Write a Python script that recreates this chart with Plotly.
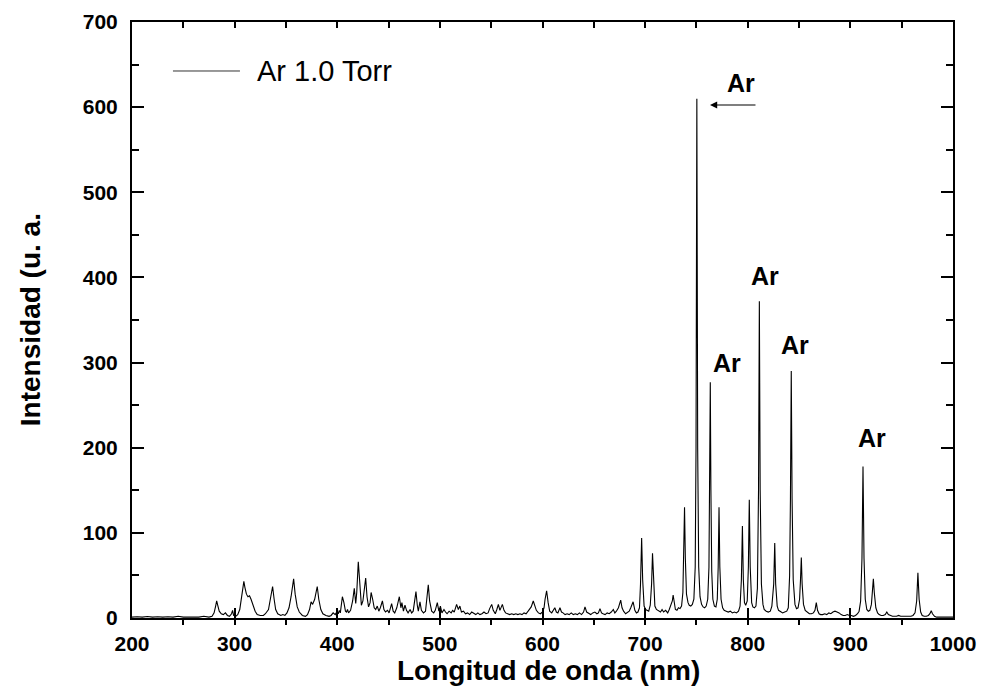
import plotly.graph_objects as go

# (wavelength nm, intensity a.u.)
uv_points = [
    (200, 1), (205, 1.5), (210, 1), (215, 1.8), (220, 1), (225, 1.5), (230, 1), (235, 1.5),
    (240, 1), (245, 2), (250, 1), (255, 1), (260, 1.5), (265, 1), (270, 2), (275, 1), (278, 2),
    (280, 6), (281.5, 14), (282.5, 20), (283.5, 15), (285, 8), (287, 5), (289, 4), (291, 6),
    (293, 3), (295, 2), (297, 5), (298, 9), (299, 3), (301, 2), (303, 4), (305, 10),
    (306.5, 25), (308, 38), (309, 43), (310, 36), (311.5, 28), (313, 25), (314.5, 26), (316, 22),
    (318, 14), (320, 8), (322, 4), (325, 3), (328, 3), (330, 5),
    (333, 10), (335, 22), (337, 37), (338.5, 22), (340, 10), (342, 5), (345, 3), (347, 4),
    (349, 3), (351, 6), (353, 12), (355, 25), (357.5, 46), (359, 28), (361, 13), (363, 7),
    (366, 3), (369, 2), (371, 4), (373, 10), (374.5, 19), (376, 16), (378, 22), (380.5, 37),
    (382, 22), (384, 10), (386, 5), (389, 3), (392, 2), (394, 3), (396, 6), (398, 4),
]
vis_points = [
    (400, 8), (401, 5), (402, 9), (403, 6), (405, 25), (406.5, 18), (408, 8), (409, 7),
    (410, 10), (411, 6), (413, 9), (415, 20), (416.6, 35), (418, 17), (419, 30), (420.5, 66),
    (422, 40), (423.5, 15), (425, 20), (427.7, 47), (429, 25), (430.5, 13), (432, 18), (433, 30),
    (434.5, 22), (436, 12), (437.5, 10), (439, 14), (440.5, 8), (442, 12), (444, 20), (445.5, 10),
    (447, 7), (449, 9), (450.5, 6), (452, 12), (453, 17), (454.5, 8), (456, 6), (458, 12),
    (459.5, 22), (460.5, 25), (462, 12), (463, 18), (464.5, 8), (466, 15), (467.5, 9), (469, 6),
    (471, 10), (472.5, 6), (474, 8), (476.7, 31), (478, 15), (479, 8), (480.6, 19), (482, 9),
    (484, 6), (486, 8), (488.7, 39), (490, 20), (492, 8), (494, 6), (495.5, 9), (497.5, 18),
    (499, 8), (500.5, 14), (502, 6), (504, 10), (505.5, 7), (507, 5), (509, 8), (511, 6),
    (512.5, 9), (514, 7), (516.3, 16), (518, 10), (519.5, 14), (521, 7), (523, 8), (525, 5),
    (527, 6), (529, 4), (531, 7), (533, 5), (535, 4), (537, 6), (539, 4), (541, 5), (543, 7),
    (545, 5), (547, 6), (548.5, 11), (550.5, 16), (552, 9), (554, 5), (555.5, 10), (557, 16),
    (558.5, 9), (560.9, 16), (562.5, 9), (564, 6), (566, 5), (568, 4), (570, 5), (572, 4),
    (574, 5), (576, 4), (578, 5), (580, 4), (582, 6), (584, 5), (586, 8), (587.5, 10),
    (589, 13), (591, 20), (592.5, 14), (594, 9), (596, 6), (598, 5), (600, 7), (601.5, 12),
    (602.5, 22), (604, 32), (605.5, 18), (607, 8), (609, 6), (610.5, 9), (612, 12), (613.5, 7),
    (615, 6), (617, 12), (618.5, 7), (620, 6), (622, 4), (624, 5), (626, 4), (628, 6), (630, 4),
    (632, 5), (634, 4), (636, 6), (638, 4), (640, 7), (641.4, 13), (643, 7), (645, 5), (647, 4),
    (649, 6), (651, 7), (653, 5), (654.5, 6), (656, 11), (657.5, 6), (659, 5), (661, 4),
    (663, 6), (665, 5), (667, 7), (669, 10), (670.5, 6), (672, 8), (674, 12), (676.2, 21),
    (677.5, 12), (679, 8), (681, 5), (683, 7), (684.5, 8), (686, 12), (688.3, 19), (690, 9),
    (691.5, 6), (693, 7), (694.5, 12), (695.5, 40), (696.6, 94), (697.6, 45), (699, 14),
]
nir_points = [
    (700.5, 10), (702, 9), (703.5, 8), (705, 15), (706.3, 40), (707.2, 76), (708.2, 38),
    (709.5, 14), (711, 10), (713, 8), (715, 7), (716.5, 10), (718, 7), (720, 9), (722, 6),
    (723.5, 10), (725, 14), (726.5, 20), (727.3, 27), (728.3, 18), (729.5, 10), (731, 9),
    (732.5, 12), (734, 11), (735.5, 14), (736.8, 30), (737.6, 70), (738.4, 130), (739.2, 70),
    (740.3, 28), (741.8, 18), (743, 15), (744.5, 14), (746, 16), (747.5, 22), (748.8, 60),
    (749.6, 200), (750.4, 610), (751.2, 200), (752.2, 60), (753.5, 25), (755, 16), (756.5, 13),
    (758, 12), (759.5, 14), (761, 22), (762.2, 60), (762.9, 150), (763.5, 277), (764.1, 150),
    (764.9, 55), (766, 22), (767.5, 14), (769, 13), (770.3, 22), (771.2, 60), (772.0, 130),
    (772.8, 60), (774, 22), (775.5, 12), (777, 9), (779, 8), (781, 7), (783, 8), (785, 6),
    (787, 7), (789, 6), (791, 8), (792.5, 14), (793.8, 45), (794.8, 108), (795.7, 45),
    (796.8, 18), (798, 15), (799.5, 20), (800.6, 60), (801.5, 139), (802.4, 60), (803.8, 18),
    (805, 13), (806.5, 12), (808, 14), (809.4, 35), (810.5, 150), (811.3, 372), (812.1, 150),
    (813.3, 40), (814.8, 16), (816, 10), (818, 8), (820, 7), (822, 8), (823.5, 14), (825.3, 40),
    (826.3, 88), (827.2, 40), (828.7, 14), (830, 9), (832, 7), (834, 6), (836, 7), (838, 8),
    (839.5, 12), (840.8, 50), (841.6, 140), (842.4, 290), (843.2, 140), (844.3, 45), (846, 16),
    (847.5, 11), (849, 12), (850.5, 22), (851.4, 45), (852.2, 71), (853, 40), (854.3, 16),
    (856, 9), (858, 7), (860, 5), (862, 5), (864, 6), (865.5, 9), (866.8, 18), (868, 9),
    (869.5, 5), (871, 4), (873, 4), (875, 5), (877, 4), (879, 6), (881, 5), (883, 7), (885, 8),
    (887, 7), (889, 6), (891, 4), (893, 3), (895, 3), (897, 4), (899, 3), (901, 3), (903, 2),
    (905, 3), (907, 5), (908.5, 8), (910, 20), (911.3, 70), (912.3, 178), (913.3, 70),
    (914.5, 22), (916, 10), (917.5, 8), (919, 9), (920.5, 16), (921.6, 34), (922.4, 46),
    (923.3, 30), (924.8, 12), (926.5, 6), (928, 4), (930, 3), (932, 3), (934, 4), (935.5, 7),
    (937, 4), (939, 3), (941, 2), (943, 2), (945, 2), (947, 3), (949, 2), (951, 2), (953, 2),
    (955, 2), (957, 2), (959, 2), (961, 3), (963, 6), (964.6, 20), (965.8, 53), (967, 22),
    (968.5, 7), (970, 3), (972, 2), (974, 2), (976, 3), (977.5, 5), (978.8, 8.6), (980, 5),
    (982, 2), (984, 1), (986, 1), (988, 1), (990, 1), (992, 1), (994, 1), (996, 1), (998, 1),
    (1000, 1),
]

series_name = "Ar 1.0 Torr"
x_ticks = [200, 300, 400, 500, 600, 700, 800, 900, 1000]
y_ticks = [0, 100, 200, 300, 400, 500, 600, 700]

# Line labels (text, wavelength, intensity)
label_text = ["Ar", "Ar", "Ar", "Ar", "Ar"]
label_x = [793.4, 779.6, 816.8, 846.0, 921.0]
label_y = [628, 300, 402, 321, 211]
arrow_head = (763.2, 602.5)
arrow_tail = (809.0, 602.5)

points = uv_points + vis_points + nir_points
wl = [p[0] for p in points]
inten = [p[1] for p in points]

FONT = "Liberation Sans, Arial, sans-serif"

fig = go.Figure()
fig.add_trace(go.Scatter(x=wl, y=inten, mode="lines", name=series_name,
                         line=dict(color="black", width=1.1), showlegend=False))
fig.add_trace(go.Scatter(x=[], y=[], xaxis="x2", showlegend=False))

tickfont = dict(family=FONT, size=21, color="black", weight="bold")

fig.update_layout(
    width=985, height=691,
    margin=dict(l=132, r=32, t=22, b=73, autoexpand=False),
    paper_bgcolor="white", plot_bgcolor="white",
    xaxis=dict(range=[200, 1000], tickvals=x_ticks, ticks="inside", ticklen=10, tickwidth=1.5,
               tickcolor="black", minor=dict(dtick=50, tick0=200, ticks="outside", ticklen=5,
                                             tickwidth=1.5, tickcolor="black"),
               showline=True, linewidth=2, linecolor="black", mirror=True, automargin=False,
               showgrid=False, zeroline=False, tickfont=tickfont, ticklabelstandoff=6),
    xaxis2=dict(range=[200, 1000], overlaying="x", side="top", tick0=200, dtick=50,
                ticks="inside", ticklen=6, tickwidth=1.5, tickcolor="black", automargin=False,
                showticklabels=False, showgrid=False, zeroline=False, showline=False),
    yaxis=dict(range=[0, 700], tickvals=y_ticks, ticks="inside", ticklen=12, tickwidth=1.5,
               tickcolor="black", minor=dict(dtick=50, tick0=0, ticks="inside", ticklen=7,
                                             tickwidth=1.5, tickcolor="black"),
               showline=True, linewidth=2, linecolor="black", mirror="ticks", automargin=False,
               showgrid=False, zeroline=False, tickfont=tickfont, ticklabelstandoff=8),
    showlegend=False,
)

ann = []
for t, lx, ly in zip(label_text, label_x, label_y):
    ann.append(dict(x=lx, y=ly, xref="x", yref="y", text="<b>" + t + "</b>", showarrow=False,
                    font=dict(family=FONT, size=25, color="black")))
ann.append(dict(x=arrow_head[0], y=arrow_head[1], ax=arrow_tail[0], ay=arrow_tail[1],
                xref="x", yref="y", axref="x", ayref="y", text="", showarrow=True,
                arrowhead=2, arrowsize=1.2, arrowwidth=1.2, arrowcolor="black"))
# axis titles
ann.append(dict(x=0.507, y=-0.088, xref="paper", yref="paper", text="<b>Longitud de onda (nm)</b>",
                showarrow=False, xanchor="center", yanchor="middle",
                font=dict(family=FONT, size=28, color="black")))
ann.append(dict(x=-0.124, y=0.5, xref="paper", yref="paper", text="<b>Intensidad (u. a.</b>",
                showarrow=False, xanchor="center", yanchor="middle", textangle=-90,
                font=dict(family=FONT, size=28, color="black")))
# legend
ann.append(dict(x=0.1498, y=0.9178, xref="paper", yref="paper", text=series_name,
                showarrow=False, xanchor="left", yanchor="middle",
                font=dict(family=FONT, size=29, color="black")))
fig.update_layout(annotations=ann)
fig.add_shape(type="line", xref="paper", yref="paper", x0=0.0499, x1=0.1315, y0=0.9178, y1=0.9178,
              line=dict(color="#333333", width=1))

fig.write_html("out.html", config={"displayModeBar": False},
               post_script="document.body.style.margin='0';document.body.style.overflow='hidden';")
